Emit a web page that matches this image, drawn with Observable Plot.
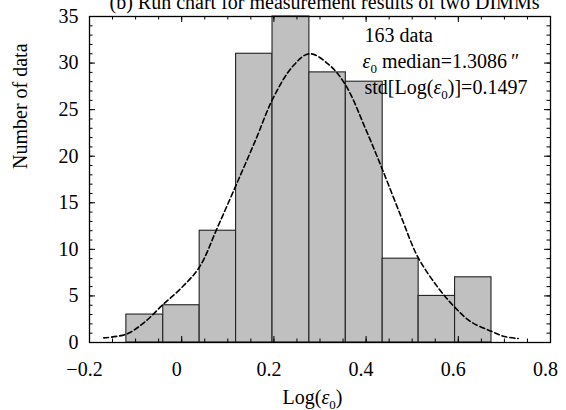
<!DOCTYPE html>
<html><head><meta charset="utf-8">
<script src="https://cdn.jsdelivr.net/npm/d3@7"></script>
<script src="https://cdn.jsdelivr.net/npm/@observablehq/plot@0.6"></script>
<style>body{margin:0;background:#fff;} svg text{font-family:"Liberation Serif","Times New Roman",serif;}</style>
</head><body><div id="chart"></div>
<script>
// ---- data ----
const binEdges = [-0.120, -0.040, 0.039, 0.118, 0.197, 0.277, 0.356, 0.436, 0.514, 0.593, 0.672];
const binCounts = [3, 4, 12, 31, 35, 29, 28, 9, 5, 7];
const fitX = [-0.169, -0.12, -0.08, -0.04, 0.0, 0.0385, 0.078, 0.118, 0.16, 0.198, 0.24, 0.277, 0.32, 0.356, 0.40, 0.436, 0.476, 0.512, 0.556, 0.592, 0.628, 0.672, 0.70, 0.73];
const fitY = [0.5, 0.9, 2.2, 4.1, 5.9, 8.1, 12.4, 16.9, 21.7, 26.2, 29.6, 31.0, 29.8, 27.6, 22.8, 18.5, 13.5, 9.2, 5.9, 3.8, 2.2, 1.2, 0.64, 0.43];
const xMajor = [-0.2, 0, 0.2, 0.4, 0.6, 0.8];
const xTickLabels = ["\u22120.2", "0", "0.2", "0.4", "0.6", "0.8"];
const yMajor = [0, 5, 10, 15, 20, 25, 30, 35];
const yTickLabels = ["0", "5", "10", "15", "20", "25", "30", "35"];
const titleText = "(b) Run chart for measurement results of two DIMMs";
const xLabel = "Log(\u03B5\u2080)";
const yLabel = "Number of data";
const noteLines = ["163 data", "\u03B5\u2080 median=1.3086\u2009\u2033", "std[Log(\u03B5\u2080)]=0.1497"];

// ---- layout ----
const W = 566, H = 410, mL = 89, mR = 16, mT = 16, mB = 68;
const fw = W - mL - mR, fh = H - mT - mB;
const serif = "Liberation Serif, Times New Roman, serif";
const bars = binCounts.map((c, i) => ({x1: binEdges[i], x2: binEdges[i + 1], y: c}));
const fit = fitX.map((x, i) => ({x, y: fitY[i]}));
const xMinor = d3.range(-4, 17).map(k => +(k * 0.05).toFixed(2));
const yMinor = d3.range(0, 36);
const xLab = new Map(xMajor.map((v, i) => [v, xTickLabels[i]]));
const yLab = new Map(yMajor.map((v, i) => [v, yTickLabels[i]]));
const minorLen = 3.5, majorLen = 6;
const T = {fontFamily: serif, fontSize: 20, fill: "#000"};

const plot = Plot.plot({
  width: W, height: H,
  marginLeft: mL, marginRight: mR, marginTop: mT, marginBottom: mB,
  x: {domain: [-0.2, 0.8], label: null},
  y: {domain: [0, 35], label: null},
  style: {fontFamily: serif, fontSize: "20px", background: "#fff", color: "#000"},
  marks: [
    Plot.rectY(bars, {x1: "x1", x2: "x2", y1: 0, y2: "y", fill: "#c0c0c0", stroke: "#222", strokeWidth: 1.1}),
    Plot.line(fit, {x: "x", y: "y", curve: "catmull-rom", stroke: "#000", strokeWidth: 1.6, strokeDasharray: "5,3"}),
    Plot.tickX(xMinor, {x: d => d, insetBottom: fh - minorLen, stroke: "#000"}),
    Plot.tickX(xMinor, {x: d => d, insetTop: fh - minorLen, stroke: "#000"}),
    Plot.tickX(xMajor, {x: d => d, insetBottom: fh - majorLen, stroke: "#000"}),
    Plot.tickX(xMajor, {x: d => d, insetTop: fh - majorLen, stroke: "#000"}),
    Plot.tickY(yMinor, {y: d => d, insetRight: fw - minorLen, stroke: "#000"}),
    Plot.tickY(yMinor, {y: d => d, insetLeft: fw - minorLen, stroke: "#000"}),
    Plot.tickY(yMajor, {y: d => d, insetRight: fw - majorLen, stroke: "#000"}),
    Plot.tickY(yMajor, {y: d => d, insetLeft: fw - majorLen, stroke: "#000"}),
    Plot.frame({stroke: "#000", strokeWidth: 1.3}),
    Plot.axisX(xMajor, {anchor: "bottom", tickSize: 0, tickPadding: 19, tickFormat: d => xLab.get(d), dx: -5, label: null, ...T}),
    Plot.axisY(yMajor, {anchor: "left", tickSize: 0, tickPadding: 11, tickFormat: d => yLab.get(d), label: null, ...T}),
    Plot.text([titleText], {text: d => d, frameAnchor: "top", dx: 4.5, dy: -8, lineAnchor: "bottom", ...T}),
    Plot.text([xLabel], {text: d => d, frameAnchor: "bottom", dx: -7.5, dy: 61, lineAnchor: "bottom", ...T}),
    Plot.text([yLabel], {text: d => d, frameAnchor: "left", rotate: -90, dx: -69, dy: -10.5, lineAnchor: "middle", ...T}),
    Plot.text([noteLines[0]], {text: d => d, frameAnchor: "top-left", textAnchor: "start", dx: 275, dy: 25, lineAnchor: "bottom", ...T}),
    Plot.text([noteLines[1]], {text: d => d, frameAnchor: "top-left", textAnchor: "start", dx: 273, dy: 51, lineAnchor: "bottom", ...T}),
    Plot.text([noteLines[2]], {text: d => d, frameAnchor: "top-left", textAnchor: "start", dx: 275, dy: 77, lineAnchor: "bottom", ...T})
  ]
});

// subscript / italic epsilon rendering
d3.select(plot).selectAll("text").each(function () {
  const s = this.textContent;
  if (!s.includes("\u03B5\u2080")) return;
  const [a, b] = s.split("\u03B5\u2080");
  const t = d3.select(this);
  this.textContent = "";
  if (a) t.append("tspan").text(a);
  t.append("tspan").attr("font-style", "italic").text("\u03B5");
  t.append("tspan").attr("font-size", 13).attr("dy", 5).text("0");
  t.append("tspan").attr("dy", -5).text(b || "");
});

document.getElementById("chart").appendChild(plot);
</script>
</body></html>
